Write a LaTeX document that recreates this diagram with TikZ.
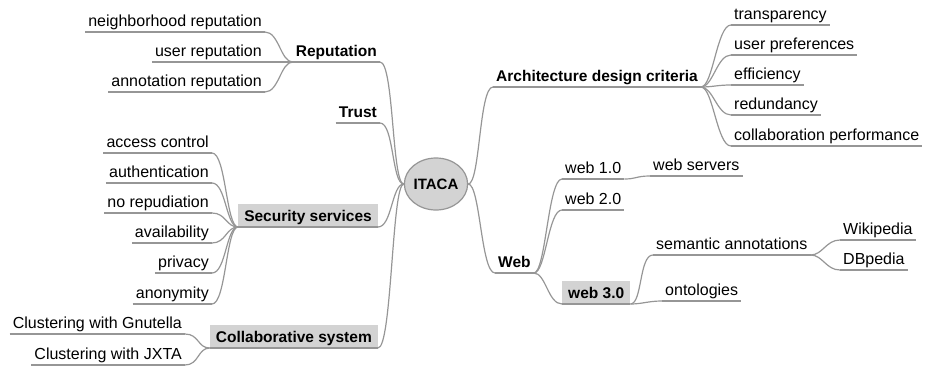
\documentclass[tikz,border=0pt]{standalone}
\usepackage{fontspec}
\setmainfont{Liberation Sans}
\usetikzlibrary{shapes.geometric}
\definecolor{linegray}{RGB}{150,150,150}
\definecolor{boxgray}{RGB}{211,211,211}
\tikzset{
    link/.style={draw=linegray, line width=1.2pt},
    leaf/.style={font=\fontsize{16}{18}\selectfont, inner xsep=3pt, inner ysep=1pt, text height=11pt, text depth=4pt,
        append after command={(\tikzlastnode.south west) edge[link] (\tikzlastnode.south east)}},
    topic/.style={leaf, font=\bfseries\fontsize{15.5}{18}\selectfont},
    shaded/.style={topic, fill=boxgray, inner xsep=6pt, inner ysep=1.5pt, text height=16pt},
}
\begin{document}
\begin{tikzpicture}[x=1pt, y=-1pt]
    \useasboundingbox (0,0) rectangle (925,367);

    \node [ellipse, draw=linegray, line width=1.2pt, fill=boxgray, minimum width=62pt, minimum height=52pt, inner sep=0pt,
        font=\bfseries\fontsize{15}{18}\selectfont] (itaca) at (436,184) {ITACA};

    \node [topic, anchor=south east] (rep) at (380,62) {Reputation};
    \node [topic, anchor=south east] (trust) at (380,123) {Trust};
    \node [shaded, anchor=south east] (sec) at (378,227) {Security services};
    \node [shaded, anchor=south east] (col) at (378,348) {Collaborative system};

    \node [leaf, anchor=south east] (nbr) at (265,32) {neighborhood reputation};
    \node [leaf, anchor=south east] (usr) at (265,62) {user reputation};
    \node [leaf, anchor=south east] (ann) at (265,92) {annotation reputation};

    \node [leaf, anchor=south east] (acc) at (212,153) {access control};
    \node [leaf, anchor=south east] (auth) at (212,183) {authentication};
    \node [leaf, anchor=south east] (norep) at (212,213) {no repudiation};
    \node [leaf, anchor=south east] (avail) at (212,243) {availability};
    \node [leaf, anchor=south east] (priv) at (212,273) {privacy};
    \node [leaf, anchor=south east] (anon) at (212,304) {anonymity};

    \node [leaf, anchor=south east] (gnut) at (185,334) {Clustering with Gnutella};
    \node [leaf, anchor=south east] (jxta) at (185,365) {Clustering with JXTA};

    \node [topic, anchor=south west] (adc) at (493,87) {Architecture design criteria};
    \node [leaf, anchor=south west] (transp) at (731,25) {transparency};
    \node [leaf, anchor=south west] (upref) at (731,55) {user preferences};
    \node [leaf, anchor=south west] (eff) at (731,85) {efficiency};
    \node [leaf, anchor=south west] (red) at (731,115) {redundancy};
    \node [leaf, anchor=south west] (cperf) at (731,146) {collaboration performance};

    \node [topic, anchor=south west] (web) at (495,273) {Web};
    \node [leaf, anchor=south west] (webone) at (562,179) {web 1.0};
    \node [leaf, anchor=south west] (webtwo) at (562,210) {web 2.0};
    \node [shaded, anchor=south west] (webthree) at (562,304) {web 3.0};
    \node [leaf, anchor=south west] (wsrv) at (650,176) {web servers};
    \node [leaf, anchor=south west] (sem) at (653,255) {semantic annotations};
    \node [leaf, anchor=south west] (onto) at (662,301) {ontologies};
    \node [leaf, anchor=south west] (wiki) at (840,240) {Wikipedia};
    \node [leaf, anchor=south west] (dbp) at (840,270) {DBpedia};

    \foreach \n in {rep, trust, sec, col}
        \draw [link] (itaca.west) .. controls +(-12,0) and +(14,0) .. (\n.south east);
    \foreach \n in {adc, web}
        \draw [link] (itaca.east) .. controls +(12,0) and +(-14,0) .. (\n.south west);

    \foreach \n in {nbr, usr, ann}
        \draw [link] (\n.south east) .. controls +(14,0) and +(-12,0) .. (rep.south west);
    \foreach \n in {acc, auth, norep, avail, priv, anon}
        \draw [link] (\n.south east) .. controls +(14,0) and +(-12,0) .. (sec.south west);
    \foreach \n in {gnut, jxta}
        \draw [link] (\n.south east) .. controls +(14,0) and +(-12,0) .. (col.south west);

    \foreach \n in {transp, upref, eff, red, cperf}
        \draw [link] (adc.south east) .. controls +(12,0) and +(-14,0) .. (\n.south west);
    \foreach \n in {webone, webtwo, webthree}
        \draw [link] (web.south east) .. controls +(12,0) and +(-14,0) .. (\n.south west);
    \draw [link] (webone.south east) .. controls +(12,0) and +(-14,0) .. (wsrv.south west);
    \foreach \n in {sem, onto}
        \draw [link] (webthree.south east) .. controls +(12,0) and +(-14,0) .. (\n.south west);
    \foreach \n in {wiki, dbp}
        \draw [link] (sem.south east) .. controls +(12,0) and +(-14,0) .. (\n.south west);
\end{tikzpicture}
\end{document}
